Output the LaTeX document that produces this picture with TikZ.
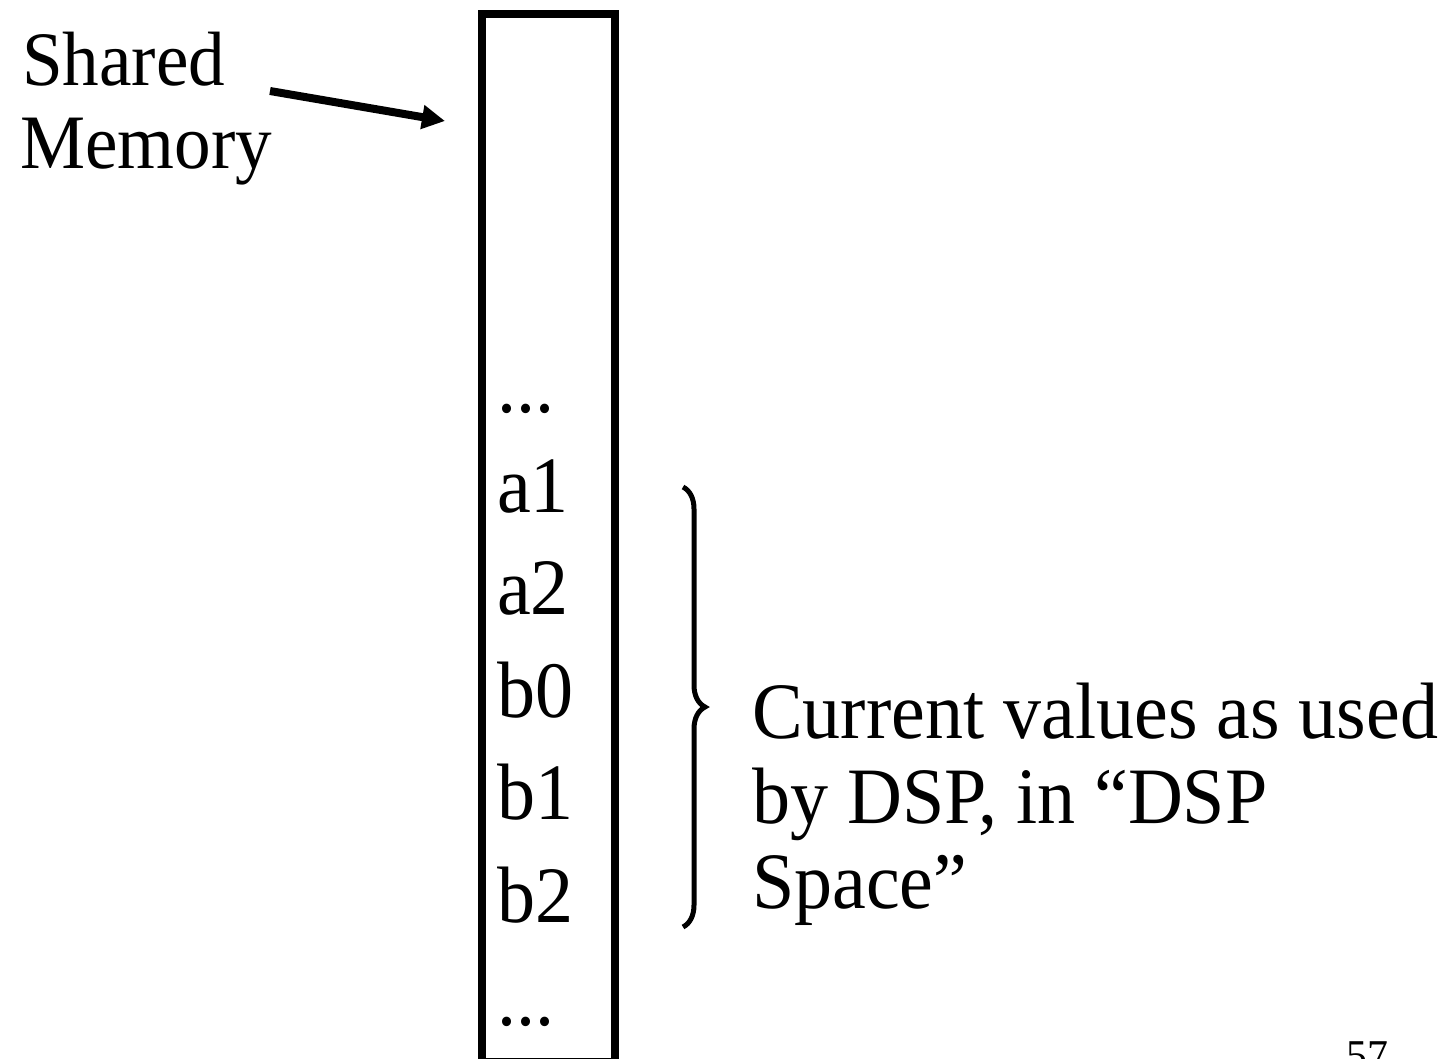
\documentclass[tikz,border=0pt]{standalone}
\usepackage{fontspec}
\setmainfont{Liberation Serif}[FakeStretch=0.95]
\usetikzlibrary{arrows.meta,decorations.pathreplacing}

\begin{document}
\begin{tikzpicture}[x=1pt,y=-1pt,
  bigtext/.style={inner sep=0pt,anchor=base west,font=\fontsize{80}{85}\selectfont},
  labeltext/.style={inner sep=0pt,anchor=base west,font=\fontsize{77}{83}\selectfont},
  celltext/.style={inner sep=0pt,anchor=base west,font=\fontsize{80}{85}\selectfont},
  pagenum/.style={inner sep=0pt,anchor=base west,font=\fontsize{44}{48}\selectfont},
  memframe/.style={draw,line width=8pt,inner sep=0pt,anchor=north west,
    minimum width=132.5pt,minimum height=1048pt},
  pointer/.style={line width=8pt,-{Triangle[length=23pt,width=23pt]}},
  groupbrace/.style={line width=5pt,decorate,
    decoration={brace,amplitude=22pt}}
]
\useasboundingbox (0,0) rectangle (1448,1058);

% memory column
\node[memframe] (mem) at (478,10) {};

% label with pointer
\node[labeltext] (lab1) at (22,85) {Shared};
\node[labeltext] (lab2) at (20,168) {Memory};
\coordinate (ptrA) at (270,91);
\coordinate (ptrB) at (445,121);
\draw[pointer] (ptrA) -- (ptrB);

% cells
\node[celltext] (dtop) at (497,412) {...};
\node[celltext] (a1) at (497,512) {a1};
\node[celltext] (a2) at (497,614.5) {a2};
\node[celltext] (b0) at (497,717) {b0};
\node[celltext] (b1) at (497,819.5) {b1};
\node[celltext] (b2) at (497,922) {b2};
\node[celltext] (dbot) at (497,1025) {...};

% brace over the coefficient cells
\coordinate (brTop) at (683,487);
\coordinate (brBot) at (683,927);
\draw[groupbrace] (brTop) -- (brBot);

% explanation
\node[bigtext] (n1) at (752,738) {Current values as used};
\node[bigtext] (n2) at (752,823) {by DSP, in “DSP};
\node[bigtext] (n3) at (752,908) {Space”};

% slide number
\node[pagenum] (pg) at (1346,1070) {57};
\end{tikzpicture}
\end{document}
